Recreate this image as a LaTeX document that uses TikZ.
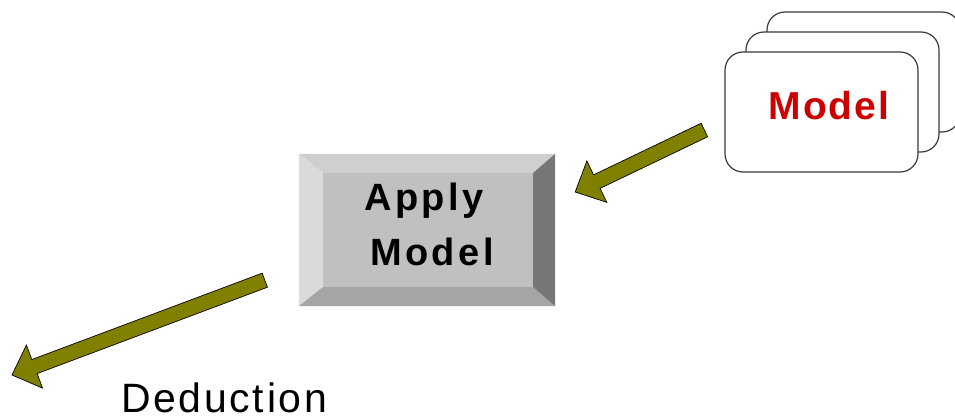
\documentclass[tikz,border=0pt]{standalone}
\usepackage{fontspec}
\setmainfont{Liberation Sans}
\newfontfamily\btnfont[LetterSpace=9]{Liberation Sans}
\newfontfamily\redfont[LetterSpace=5]{Liberation Sans}
\newfontfamily\dedfont[LetterSpace=6.5]{Liberation Sans}
\usetikzlibrary{calc}
\definecolor{bevtop}{HTML}{CFCFCF}
\definecolor{bevleft}{HTML}{DADADA}
\definecolor{bevface}{HTML}{C0C0C0}
\definecolor{bevbottom}{HTML}{A5A5A5}
\definecolor{bevright}{HTML}{777777}
\definecolor{modelred}{HTML}{CC0000}
\definecolor{arrowolive}{HTML}{808000}
\definecolor{cardline}{HTML}{3A3A3A}
\newcommand\blockarrow[2]{%
  \coordinate (hb) at ($(#2)!24pt!(#1)$);
  \filldraw[fatarrow]
    ($(#1)!7.5pt!90:(#2)$) -- ($(hb)!7.5pt!90:(#2)$) -- ($(hb)!23pt!90:(#2)$) --
    (#2) --
    ($(hb)!23pt!-90:(#2)$) -- ($(hb)!7.5pt!-90:(#2)$) -- ($(#1)!7.5pt!-90:(#2)$) -- cycle;
}
\begin{document}
\begin{tikzpicture}[x=1pt,y=-1pt,
  card/.style={draw=cardline, line width=1.2pt, fill=white, rounded corners=18pt,
    minimum width=193pt, minimum height=120pt, inner sep=0pt},
  fatarrow/.style={fill=arrowolive, draw=black, line width=0.7pt, line join=miter},
  btnlabel/.style={font=\btnfont\bfseries\fontsize{38}{40}\selectfont, inner sep=0pt, anchor=base},
  redlabel/.style={font=\redfont\bfseries\fontsize{39}{40}\selectfont, text=modelred, inner sep=0pt, anchor=base},
  plainlabel/.style={font=\dedfont\fontsize{41}{44}\selectfont, inner sep=0pt, anchor=base west}
]
\useasboundingbox (0,0) rectangle (955,417);

% stacked model cards
\node[card] (back) at (863.5,72) {};
\node[card] (middle) at (842.5,92) {};
\node[card] (front) at (821.5,112) {};
\node[redlabel] (modeltext) at (829,120) {Model};

% bevelled button
\node[minimum width=256pt, minimum height=152pt, inner sep=0pt] (btn) at (427,230) {};
\coordinate (inw) at ($(btn.north west)+(24,19)$);
\coordinate (ine) at ($(btn.north east)+(-22,19)$);
\coordinate (isw) at ($(btn.south west)+(24,-19)$);
\coordinate (ise) at ($(btn.south east)+(-22,-19)$);
\fill[bevface] (inw) rectangle (ise);
\fill[bevtop] (btn.north west) -- (btn.north east) -- (ine) -- (inw) -- cycle;
\fill[bevleft] (btn.north west) -- (inw) -- (isw) -- (btn.south west) -- cycle;
\fill[bevbottom] (btn.south west) -- (isw) -- (ise) -- (btn.south east) -- cycle;
\fill[bevright] (btn.north east) -- (ine) -- (ise) -- (btn.south east) -- cycle;
\node[btnlabel] (btntextA) at (424,210) {Apply};
\node[btnlabel] (btntextB) at (432,265) {Model};

% arrows
\coordinate (a1tail) at ($(front.west)+(-20,18)$);
\coordinate (a1tip) at ($(btn.east)+(20,-38)$);
\blockarrow{a1tail}{a1tip}
\coordinate (a2tail) at ($(btn.south west)+(-34,-26)$);
\coordinate (a2tip) at (12,375);
\blockarrow{a2tail}{a2tip}

\node[plainlabel] (deduction) at (121,412) {Deduction};
\end{tikzpicture}
\end{document}
